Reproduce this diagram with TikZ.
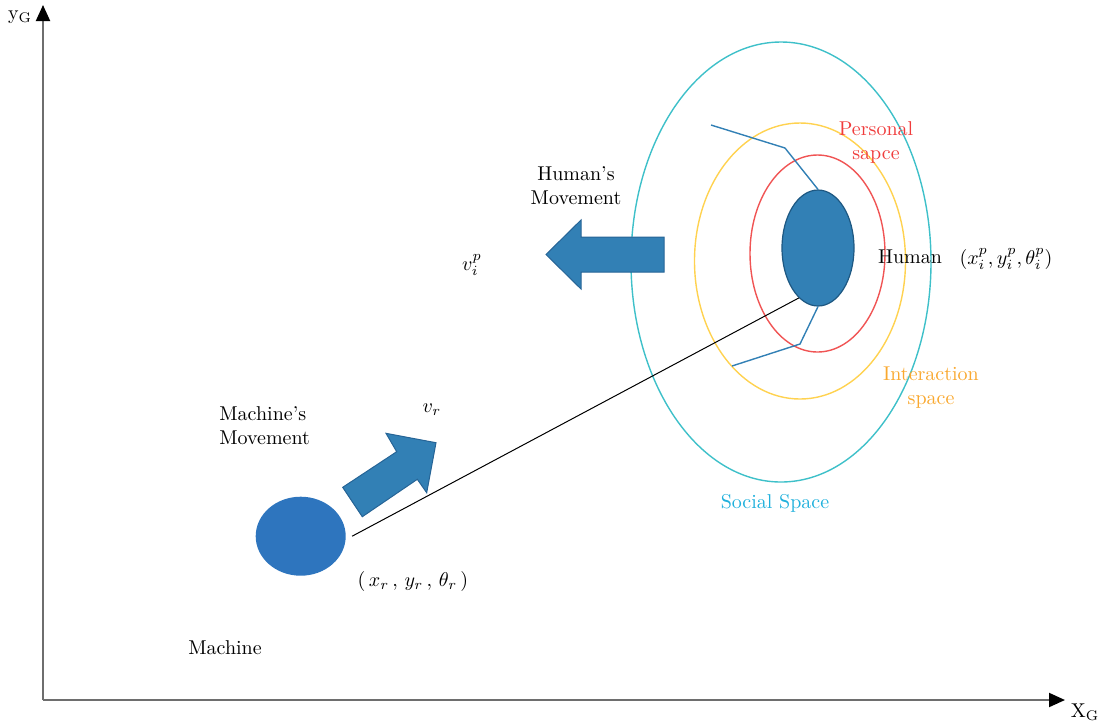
\documentclass[tikz,border=0pt]{standalone}
\usepackage{amsmath,amssymb}
\usepackage{tikz}
\usetikzlibrary{shapes.geometric,arrows.meta,positioning,calc}
\usepackage{xcolor}
\definecolor{machblue}{RGB}{46,117,190}
\definecolor{humblue}{RGB}{50,128,181}
\definecolor{humedge}{RGB}{30,88,130}
\definecolor{arrowedge}{RGB}{38,100,150}
\definecolor{persred}{RGB}{240,84,84}
\definecolor{perstext}{RGB}{240,60,60}
\definecolor{interyellow}{RGB}{255,210,80}
\definecolor{intertext}{RGB}{249,168,47}
\definecolor{socialcyan}{RGB}{62,192,201}
\definecolor{socialtext}{RGB}{31,176,220}
\definecolor{axisgray}{RGB}{110,110,110}

\begin{document}
\begin{tikzpicture}[x=0.5pt,y=-0.5pt,
    zone/.style={ellipse, draw, line width=0.7pt, inner sep=0pt},
    body/.style={ellipse, inner sep=0pt},
    blockarrow/.style={fill=humblue, draw=arrowedge, line width=0.5pt},
    axisline/.style={draw=axisgray, line width=1pt, -{Triangle[length=8pt,width=7pt,black]}},
    lbl/.style={align=center, inner sep=0pt}]
    \useasboundingbox (0,0) rectangle (1098,725);
    % axes
    \coordinate (orig) at (43,700);
    \coordinate (ytip) at (43,5);
    \coordinate (xtip) at (1065,700);
    \draw[axisline] (orig) -- (ytip);
    \draw[axisline] (orig) -- (xtip);
    \node[lbl] (ylab) at (20,17) {y$_{\mathrm{G}}$};
    \node[lbl] (xlab) at (1085,712) {X$_{\mathrm{G}}$};
    % comfort zones around the human
    \node[zone, draw=socialcyan, minimum width=150pt, minimum height=220pt] (social) at (781,262) {};
    \node[zone, draw=interyellow, minimum width=105.5pt, minimum height=138pt] (inter) at (800,261) {};
    \node[zone, draw=persred, minimum width=67.5pt, minimum height=98.5pt] (pers) at (817.5,253.5) {};
    % human and machine
    \node[body, fill=humblue, draw=humedge, line width=0.6pt, minimum width=36pt, minimum height=58pt] (hum) at (818,248) {};
    \node[body, fill=machblue, minimum width=45pt, minimum height=39.5pt] (mach) at (300.7,536.2) {};
    % link between machine and human
    \draw[black, line width=0.5pt] ([xshift=3pt]mach.east) -- (hum.249);
    % body outline
    \coordinate (shoulder) at (711,125);
    \coordinate (hip) at (732,366);
    \draw[humblue, line width=0.7pt] (shoulder) -- (785,148) -- (hum.north);
    \draw[humblue, line width=0.7pt] (hip) -- (800,344) -- (hum.south);
    % movement arrows
    \draw[blockarrow] (664,237) -- (581,237) -- (581,220) -- (546,254.5)
        -- (581,289) -- (581,272) -- (664,272) -- cycle;
    \draw[blockarrow] (342.7,487.3) -- (396.7,451.7) -- (386,433.3) -- (436,442.7)
        -- (426.7,492.7) -- (417.3,479.3) -- (362.3,516.7) -- cycle;
    % labels
    \node[lbl] (machname) at (225,648) {Machine};
    \node[lbl, align=left, anchor=west] (machmove) at (219,426) {Machine's\\Movement};
    \node[lbl] (vr) at (432,410) {$v_r$};
    \node[lbl] (machpos) at (413,581) {$(\,x_r\,,\,y_r\,,\,\theta_r\,)$};
    \node[lbl] (hummove) at (576,186) {Human's\\Movement};
    \node[lbl] (vip) at (472,265) {$v_i^p$};
    \node[lbl] (humname) at (910,257) {Human};
    \node[lbl] (humpos) at (1006,259) {$(x_i^p, y_i^p, \theta_i^p)$};
    \node[lbl, text=perstext] (perslab) at (876,142) {Personal\\sapce};
    \node[lbl, text=intertext] (interlab) at (931,388) {Interaction\\space};
    \node[lbl, text=socialtext] (sociallab) at (775,503) {Social Space};
\end{tikzpicture}
\end{document}
